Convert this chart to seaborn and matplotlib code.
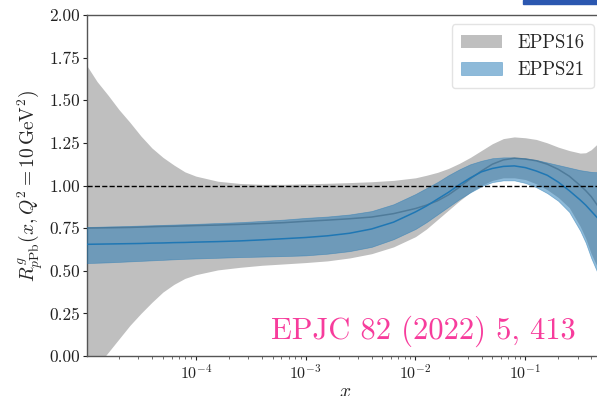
import numpy as np
import pandas as pd
import matplotlib
matplotlib.use("Agg")
import matplotlib.pyplot as plt
import seaborn as sns
from matplotlib.patches import Rectangle

# ---- data (log10 x grid and read-off values) ----
log_x = [-5.0, -4.9, -4.8, -4.7, -4.6, -4.5, -4.4, -4.3, -4.2, -4.1, -4.0,
         -3.8, -3.6, -3.4, -3.2, -3.0, -2.8, -2.6, -2.4, -2.2, -2.0,
         -1.9, -1.8, -1.7, -1.6, -1.5, -1.4, -1.3, -1.2, -1.1, -1.0,
         -0.9, -0.8, -0.7, -0.6, -0.5, -0.45, -0.4, -0.35, -0.3]

epps16_up = [1.71, 1.61, 1.53, 1.445, 1.37, 1.29, 1.22, 1.165, 1.12, 1.08, 1.055,
             1.025, 1.012, 1.007, 1.007, 1.01, 1.013, 1.017, 1.022, 1.03, 1.045,
             1.06, 1.077, 1.10, 1.13, 1.165, 1.205, 1.245, 1.275, 1.285, 1.28,
             1.27, 1.25, 1.225, 1.205, 1.19, 1.192, 1.21, 1.24, 1.27]
epps16_lo = [-0.14, -0.06, 0.02, 0.10, 0.18, 0.25, 0.315, 0.375, 0.42, 0.455, 0.477,
             0.505, 0.52, 0.532, 0.54, 0.548, 0.558, 0.575, 0.60, 0.64, 0.70,
             0.745, 0.80, 0.855, 0.91, 0.96, 1.00, 1.03, 1.045, 1.045, 1.035,
             1.01, 0.975, 0.93, 0.87, 0.76, 0.69, 0.60, 0.53, 0.45]
epps16_c = [0.75, 0.751, 0.752, 0.753, 0.754, 0.756, 0.758, 0.76, 0.761, 0.763, 0.765,
            0.768, 0.772, 0.777, 0.782, 0.79, 0.797, 0.805, 0.815, 0.835, 0.865,
            0.885, 0.91, 0.945, 0.99, 1.04, 1.085, 1.125, 1.15, 1.16, 1.155,
            1.145, 1.125, 1.095, 1.055, 1.00, 0.97, 0.935, 0.89, 0.84]

epps21_up = [0.757, 0.758, 0.76, 0.761, 0.763, 0.765, 0.767, 0.769, 0.771, 0.773, 0.775,
             0.78, 0.785, 0.792, 0.80, 0.81, 0.818, 0.83, 0.85, 0.89, 0.95,
             0.985, 1.02, 1.06, 1.095, 1.125, 1.145, 1.16, 1.165, 1.165, 1.16,
             1.15, 1.135, 1.12, 1.105, 1.09, 1.085, 1.08, 1.078, 1.075]
epps21_lo = [0.545, 0.547, 0.549, 0.552, 0.555, 0.558, 0.561, 0.564, 0.567, 0.57, 0.572,
             0.576, 0.58, 0.583, 0.586, 0.59, 0.60, 0.615, 0.64, 0.685, 0.745,
             0.785, 0.83, 0.875, 0.92, 0.96, 0.995, 1.02, 1.03, 1.03, 1.015,
             0.99, 0.955, 0.91, 0.845, 0.735, 0.665, 0.575, 0.50, 0.42]
epps21_c = [0.655, 0.656, 0.657, 0.658, 0.659, 0.66, 0.662, 0.663, 0.665, 0.666, 0.668,
            0.671, 0.675, 0.681, 0.688, 0.695, 0.705, 0.72, 0.745, 0.785, 0.845,
            0.88, 0.92, 0.96, 1.005, 1.045, 1.08, 1.10, 1.112, 1.115, 1.105,
            1.085, 1.06, 1.02, 0.97, 0.915, 0.885, 0.85, 0.815, 0.78]

labels = ["EPPS16", "EPPS21"]
ref_text = "EPJC 82 (2022) 5, 413"
yticks = [0.0, 0.25, 0.5, 0.75, 1.0, 1.25, 1.5, 1.75, 2.0]

x = 10.0 ** np.array(log_x)
df = pd.DataFrame({"x": x, "c16": epps16_c, "c21": epps21_c})

# ---- style ----
sns.set_style("ticks")
plt.rcParams["font.family"] = ["cmr10", "DejaVu Serif"]
plt.rcParams["mathtext.fontset"] = "cm"
plt.rcParams["axes.formatter.use_mathtext"] = True
plt.rcParams["axes.unicode_minus"] = False

W, H = 597, 396
fig = plt.figure(figsize=(W / 100, H / 100), dpi=100)
ax = fig.add_axes([87 / W, (H - 356) / H, (603 - 87) / W, (356 - 15) / H])

gray = "#bfbfbf"
blue = "#1f77b4"

ax.fill_between(x, epps16_lo, epps16_up, color=gray, lw=0, label=labels[0], zorder=1)
sns.lineplot(data=df, x="x", y="c16", ax=ax, color="gray", lw=1.1, zorder=2, legend=False)
ax.fill_between(x, epps21_lo, epps21_up, color=blue, alpha=0.5, lw=0.5,
                label=labels[1], zorder=3)
sns.lineplot(data=df, x="x", y="c21", ax=ax, color=blue, lw=1.1, zorder=4, legend=False)
ax.axhline(1.0, ls="--", color="k", lw=1.0, zorder=5)

ax.set_xscale("log")
ax.set_xlim(1.02e-5, 0.51)
ax.set_ylim(0, 2)
ax.set_yticks(yticks)
ax.set_yticklabels([f"{v:.2f}" for v in yticks])
ax.tick_params(axis="y", labelsize=12.5, colors="#222222", length=3, width=0.8, pad=2)
ax.tick_params(axis="x", which="major", labelsize=11.5, colors="#222222",
               length=3, width=0.8, pad=2)
ax.tick_params(axis="x", which="minor", length=2, width=0.6, colors="#555555")
for s in ax.spines.values():
    s.set_color("#555555")
    s.set_linewidth(1.0)
ax.spines["right"].set_visible(False)

ax.set_xlabel(r"$x$", fontsize=14, labelpad=1)
ax.set_ylabel(r"$R^{g}_{p\mathrm{Pb}}(x,Q^2=10\,\mathrm{GeV}^2)$", fontsize=14)
ax.yaxis.set_label_coords(-0.081, 0.5)

leg = ax.legend(loc="upper right", fontsize=13.5, frameon=True, handlelength=2.2,
                borderpad=0.5)
leg.get_frame().set_edgecolor("#dddddd")

ax.text(0.948, 0.05, ref_text, transform=ax.transAxes, ha="right", va="baseline",
        fontsize=22, color="#f73c9c")

# cropped blue bar at the top-right corner
fig.patches.append(Rectangle((523 / W, 1 - 4 / H), 80 / W, 4 / H,
                             transform=fig.transFigure, color="#2b57b0", zorder=10))

fig.savefig("out.png", dpi=100)
